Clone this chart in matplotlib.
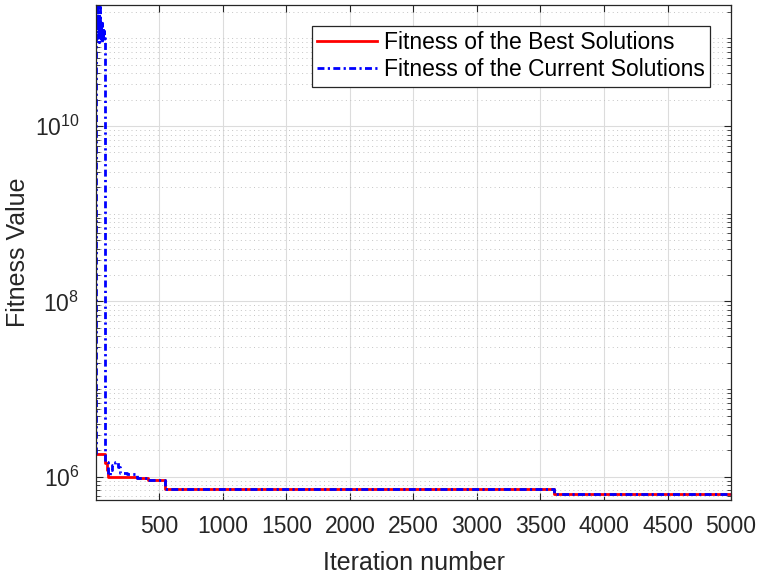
import matplotlib
matplotlib.use('Agg')
import matplotlib.pyplot as plt
from matplotlib.ticker import LogLocator, NullFormatter, FixedLocator

# best fitness so far (step function: value holds until next iteration)
best_iter = [1, 74, 86, 98, 326, 410, 547, 3607, 5000]
best_val = [1.83e6, 1.45e6, 1.2e6, 1.0e6, 0.96e6, 0.93e6, 0.73e6, 0.64e6, 0.64e6]

# fitness of the current solution
cur_iter = [1, 3, 6, 9, 12, 15, 18, 21, 24, 27, 30, 34, 38, 42, 46, 50, 54, 58,
            62, 66, 70, 74, 98, 114, 129, 153, 177, 192, 248, 287, 326, 410,
            547, 3607, 5000]
cur_val = [1.83e6, 1.2e11, 2.2e11, 1.0e11, 2.4e11, 1.3e11, 2.0e11, 9e10, 1.8e11,
           1.1e11, 2.3e11, 1.0e11, 1.6e11, 9e10, 1.5e11, 1.0e11, 1.3e11, 9.5e10,
           1.2e11, 1.0e11, 8e10, 1.48e6, 1.05e6, 1.2e6, 1.37e6, 1.48e6, 1.3e6,
           1.11e6, 1.08e6, 1.08e6, 0.96e6, 0.93e6, 0.73e6, 0.64e6, 0.64e6]

xticks = [500, 1000, 1500, 2000, 2500, 3000, 3500, 4000, 4500, 5000]
yticks = [1e6, 1e8, 1e10]

plt.rcParams['font.family'] = ['Liberation Sans', 'DejaVu Sans']
plt.rcParams['mathtext.fontset'] = 'custom'
plt.rcParams['mathtext.rm'] = 'Liberation Sans'
plt.rcParams['mathtext.default'] = 'regular'
txt = '#262626'

fig = plt.figure(figsize=(7.58, 5.75), dpi=100)
ax = fig.add_axes([0.1267, 0.1304, 0.9644 - 0.1267, 0.9913 - 0.1304])

ax.plot(best_iter, best_val, color='red', lw=2, drawstyle='steps-post',
        label='Fitness of the Best Solutions')
ax.plot(cur_iter, cur_val, color='blue', lw=2, drawstyle='steps-post',
        dashes=(2.5, 1.2, 0.8, 1.2), label='Fitness of the Current Solutions')

ax.set_yscale('log')
ax.set_xlim(1, 5000)
ax.set_ylim(5.45e5, 2.4e11)
ax.xaxis.set_major_locator(FixedLocator(xticks))
ax.yaxis.set_major_locator(FixedLocator(yticks))
ax.yaxis.set_minor_locator(LogLocator(base=10, subs=range(1, 10), numticks=50))
ax.yaxis.set_minor_formatter(NullFormatter())

ax.grid(True, which='major', color='#dcdcdc', lw=0.8, ls='-')
ax.grid(True, which='minor', axis='y', color='#c4c4c4', lw=0.7, dashes=(1, 3.5))
ax.set_axisbelow(True)

ax.tick_params(which='both', direction='in', top=True, right=True, colors=txt,
               labelsize=16.5)
ax.tick_params(which='major', length=5, width=0.8)
ax.tick_params(which='minor', length=3, width=0.6)
ax.tick_params(axis='x', which='major', pad=11)
ax.tick_params(axis='y', which='major', pad=12)
for s in ax.spines.values():
    s.set_color(txt)
    s.set_linewidth(0.9)

ax.set_xlabel('Iteration number', fontsize=18, color=txt, labelpad=9)
ax.set_ylabel('Fitness Value', fontsize=18, color=txt, labelpad=3)

leg = ax.legend(loc='upper right', fontsize=16.5, fancybox=False, framealpha=1,
                edgecolor=txt, handlelength=2.6, handletextpad=0.3,
                borderpad=0.25, labelspacing=0.15, borderaxespad=0.9)
leg.get_frame().set_linewidth(0.9)
for t in leg.get_texts():
    t.set_color('black')

fig.savefig('out.png', dpi=100)
